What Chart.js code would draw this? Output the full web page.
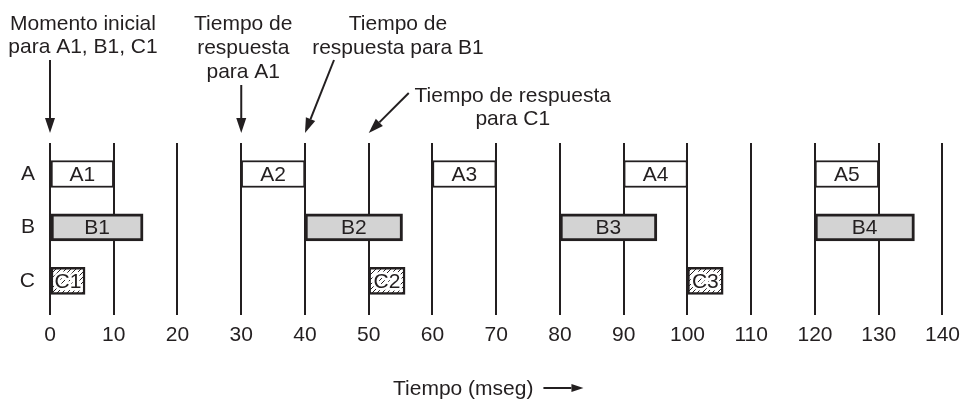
<!DOCTYPE html>
<html><head><meta charset="utf-8">
<script src="https://cdn.jsdelivr.net/npm/chart.js@4.4.1/dist/chart.umd.min.js"></script>
<style>html,body{margin:0;padding:0;background:#fff;}canvas{display:block;}</style>
</head><body>
<canvas id="c" width="968" height="399"></canvas>
<script>
// ---- data ----
const rows = ['A', 'B', 'C'];
const xTicks = [0, 10, 20, 30, 40, 50, 60, 70, 80, 90, 100, 110, 120, 130, 140];
const aLabels = ['A1', 'A2', 'A3', 'A4', 'A5'];
const aStart = [0, 30, 60, 90, 120];
const aEnd = [10, 40, 70, 100, 130];
const bLabels = ['B1', 'B2', 'B3', 'B4'];
const bStart = [0, 40, 80, 120];
const bEnd = [14.6, 55.3, 95.2, 135.6];
const cLabels = ['C1', 'C2', 'C3'];
const cStart = [0, 50, 100];
const cEnd = [5.5, 55.7, 105.6];
const noteTexts = [
  ['Momento inicial', 'para A1, B1, C1'],
  ['Tiempo de', 'respuesta', 'para A1'],
  ['Tiempo de', 'respuesta para B1'],
  ['Tiempo de respuesta', 'para C1']
];
const noteTimes = [0, 30, 40, 50];
const axisTitle = 'Tiempo (mseg)';

// ---- style ----
const INK = '#231f20';
const FAM = "'Liberation Sans', Arial, Helvetica, sans-serif";
const FS = 21;
const Y_MIN = -0.58, Y_MAX = 2.64;
const canvas = document.getElementById('c');
const ctx0 = canvas.getContext('2d');

function hatchPattern() {
  const n = 5;
  const t = document.createElement('canvas');
  t.width = n; t.height = n;
  const g = t.getContext('2d');
  g.fillStyle = '#fff'; g.fillRect(0, 0, n, n);
  g.strokeStyle = INK; g.lineWidth = 1;
  g.beginPath();
  g.moveTo(0, n); g.lineTo(n, 0);
  g.moveTo(-1, 1); g.lineTo(1, -1);
  g.moveTo(n - 1, n + 1); g.lineTo(n + 1, n - 1);
  g.stroke();
  return ctx0.createPattern(t, 'repeat');
}

function series(rowIdx, starts, ends, names, style) {
  return Object.assign({
    label: rows[rowIdx],
    data: starts.map((s, i) => ({ x: [s, ends[i]], y: rowIdx, name: names[i] }))
  }, style);
}

const noteLayout = [
  { dx: 33, base: [30, 53], from: [0, 60], tipY: 133 },
  { dx: 2, base: [30, 54, 78], from: [0, 85], tipY: 133 },
  { dx: 93, base: [30, 54], from: [29, 60], tipY: 133 },
  { dx: 144, base: [102, 125], from: [40, 93], tipY: 133 }
];

function arrow(ctx, x1, y1, x2, y2, head, half, lw) {
  const ang = Math.atan2(y2 - y1, x2 - x1);
  const bx = x2 - head * Math.cos(ang), by = y2 - head * Math.sin(ang);
  ctx.strokeStyle = INK; ctx.fillStyle = INK; ctx.lineWidth = lw;
  ctx.beginPath(); ctx.moveTo(x1, y1); ctx.lineTo(bx, by); ctx.stroke();
  ctx.beginPath();
  ctx.moveTo(x2, y2);
  ctx.lineTo(bx + half * Math.sin(ang), by - half * Math.cos(ang));
  ctx.lineTo(bx - half * Math.sin(ang), by + half * Math.cos(ang));
  ctx.closePath(); ctx.fill();
}

const decor = {
  id: 'decor',
  afterDatasetsDraw(chart) {
    const ctx = chart.ctx;
    ctx.save();
    ctx.font = FS + 'px ' + FAM;
    ctx.textAlign = 'center';
    ctx.textBaseline = 'middle';
    chart.data.datasets.forEach((ds, di) => {
      chart.getDatasetMeta(di).data.forEach((el, i) => {
        const cx = (el.x + el.base) / 2, cy = el.y + 1;
        const txt = ds.data[i].name;
        if (ds.halo) {
          ctx.strokeStyle = '#fff'; ctx.lineWidth = 5; ctx.lineJoin = 'round';
          ctx.strokeText(txt, cx, cy);
        }
        ctx.fillStyle = INK;
        ctx.fillText(txt, cx, cy);
      });
    });
    ctx.restore();
  },
  afterDraw(chart) {
    const ctx = chart.ctx, xs = chart.scales.x;
    ctx.save();
    ctx.font = FS + 'px ' + FAM;
    ctx.fillStyle = INK;
    ctx.textAlign = 'center';
    ctx.textBaseline = 'alphabetic';
    noteTexts.forEach((lines, k) => {
      const L = noteLayout[k];
      const tx = xs.getPixelForValue(noteTimes[k]);
      lines.forEach((s, j) => { ctx.fillStyle = INK; ctx.fillText(s, tx + L.dx, L.base[j]); });
      arrow(ctx, tx + L.from[0], L.from[1], tx, L.tipY, 15, 5, 2);
    });
    // axis title with arrow
    ctx.textAlign = 'left';
    ctx.fillStyle = INK;
    const tl = 393;
    ctx.fillText(axisTitle, tl, 395);
    const w = ctx.measureText(axisTitle).width;
    arrow(ctx, tl + w + 10, 388, tl + w + 50, 388, 12, 4, 2);
    ctx.restore();
  }
};

new Chart(canvas, {
  type: 'bar',
  data: {
    datasets: [
      series(0, aStart, aEnd, aLabels, { backgroundColor: '#ffffff', borderColor: INK, borderWidth: 2 }),
      series(1, bStart, bEnd, bLabels, { backgroundColor: '#d3d3d3', borderColor: INK, borderWidth: 3 }),
      series(2, cStart, cEnd, cLabels, { backgroundColor: hatchPattern(), borderColor: INK, borderWidth: 2.5, halo: true })
    ]
  },
  options: {
    indexAxis: 'y',
    responsive: false,
    animation: false,
    devicePixelRatio: 1,
    layout: { padding: { top: 143, right: 19, left: 0, bottom: 0 } },
    plugins: { legend: { display: false }, tooltip: { enabled: false } },
    datasets: { bar: { grouped: false, barThickness: 27, borderSkipped: false } },
    scales: {
      x: {
        type: 'linear', position: 'bottom', min: 0, max: 140, offset: false,
        afterBuildTicks(s) { s.ticks = xTicks.map(v => ({ value: v })); s.min = 0; s.max = 140; },
        ticks: { color: INK, font: { family: FAM, size: FS }, padding: 8, maxRotation: 0, autoSkip: false },
        grid: { color: INK, lineWidth: 2, drawTicks: false, offset: false },
        border: { display: false },
        afterFit(s) { s.height = 84; }
      },
      y: {
        type: 'linear', reverse: true, min: Y_MIN, max: Y_MAX, offset: false,
        afterBuildTicks(s) { s.ticks = rows.map((r, i) => ({ value: i })); s.min = Y_MIN; s.max = Y_MAX; },
        ticks: { callback: v => rows[v], color: INK, font: { family: FAM, size: FS }, padding: 7 },
        grid: { display: false, offset: false },
        border: { display: false },
        afterFit(s) { s.width = 50; }
      }
    }
  },
  plugins: [decor]
});
</script>
</body></html>
